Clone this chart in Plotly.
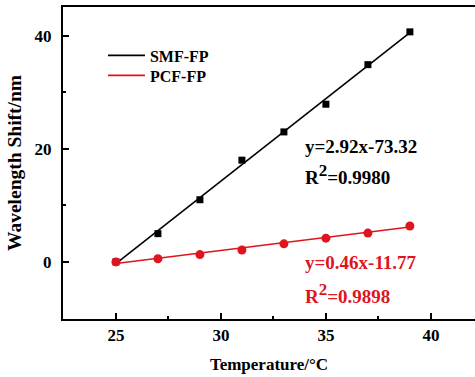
import plotly.graph_objects as go

temps = [25, 27, 29, 31, 33, 35, 37, 39]
smf_shift = [0.0, 5.0, 11.0, 18.0, 23.0, 27.9, 34.9, 40.7]
pcf_shift = [0.0, 0.55, 1.3, 2.1, 3.2, 4.2, 5.1, 6.35]
smf_fit = (2.92, -73.32, 0.9980)
pcf_fit = (0.46, -11.77, 0.9898)
fit_x = [25, 39]

FONT = "Liberation Serif"
fig = go.Figure()

series = [
    ("SMF-FP", smf_shift, smf_fit, "black", "square", 7, "legend"),
    ("PCF-FP", pcf_shift, pcf_fit, "#e0141e", "circle", 9, "legend2"),
]
for name, ys, fit, color, sym, size, lg in series:
    fy = [fit[0] * x + fit[1] for x in fit_x]
    fig.add_trace(go.Scatter(x=fit_x, y=fy, mode="lines", name=name, legend=lg,
                             line=dict(color=color, width=1.6)))
    fig.add_trace(go.Scatter(x=temps, y=ys, mode="markers", showlegend=False,
                             marker=dict(color=color, symbol=sym, size=size,
                                         line=dict(width=0))))

ann = [
    (303, 146, "y=2.92x-73.32", "black"),
    (303, 180, "R<sup><span style='font-size:17px'>2</span></sup>=0.9980", "black"),
    (303, 262, "y=0.46x-11.77", "#e0141e"),
    (303, 299, "R<sup><span style='font-size:17px'>2</span></sup>=0.9898", "#e0141e"),
]
for x, y, t, c in ann:
    fig.add_annotation(xref="paper", yref="paper", x=(x - 63) / 412,
                       y=1 - (y - 7) / 312, text="<b>" + t + "</b>",
                       showarrow=False, xanchor="left", yanchor="bottom" if "R" in t else "middle",
                       yshift=-10 if "R" in t else 0,
                       font=dict(family=FONT, size=19, color=c))

axis_common = dict(showgrid=False, zeroline=False, showline=True,
                   linecolor="black", linewidth=2, ticks="inside",
                   ticklen=6, tickwidth=1.5, tickcolor="black",
                   tickfont=dict(family=FONT, size=17, color="black", weight="bold"),
                   minor=dict(ticks="inside", ticklen=3, tickwidth=1.5,
                              tickcolor="black", showgrid=False))

fig.update_xaxes(range=[22.48, 42.1], dtick=5, tick0=25, mirror=True,
                 minor_dtick=2.5,
                 title=dict(text="Temperature/°C", standoff=14,
                            font=dict(family=FONT, size=17, color="black", weight="bold")),
                 **axis_common)
fig.update_yaxes(range=[-10.1, 45.1], dtick=20, tick0=0, minor_dtick=10,
                 ticklabelstandoff=6,
                 title=dict(text="Wavelength Shift/nm", standoff=8,
                            font=dict(family=FONT, size=19.5, color="black", weight="bold")),
                 **axis_common)

leg = dict(xanchor="left", yanchor="top", bgcolor="rgba(0,0,0,0)", itemwidth=37,
           font=dict(family=FONT, size=16, color="black", weight="bold"))
fig.update_layout(
    width=475, height=377,
    margin=dict(l=63, r=0, t=7, b=58),
    plot_bgcolor="white", paper_bgcolor="white",
    legend=dict(x=0.097, y=0.899, **leg),
    legend2=dict(x=0.097, y=0.835, **leg),
)

fig.write_html("out.html")
